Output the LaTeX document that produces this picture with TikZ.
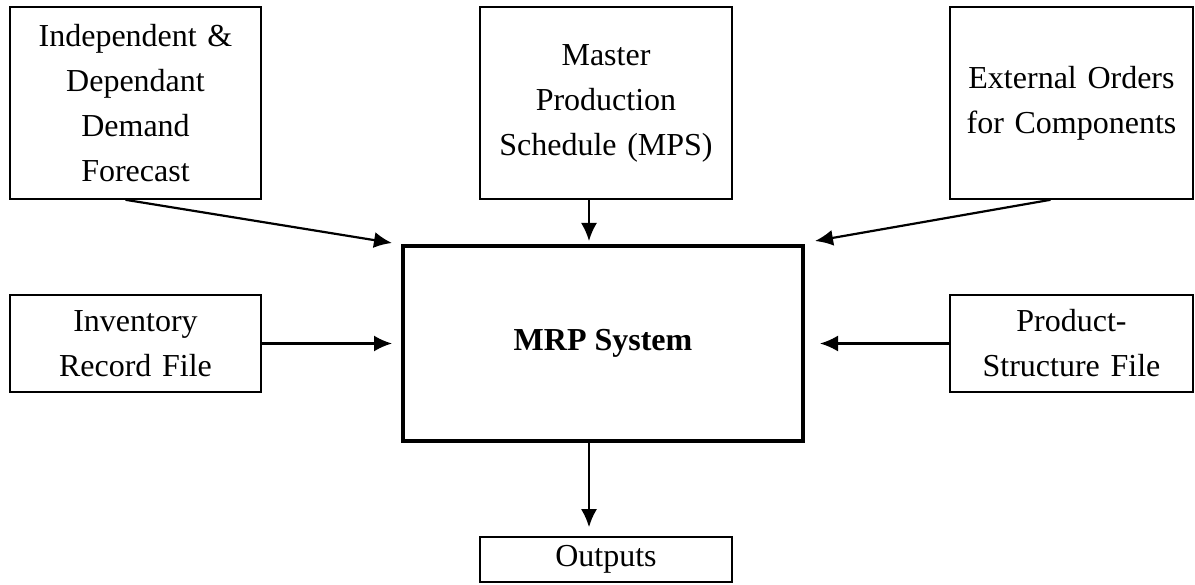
\documentclass[tikz,border=0pt]{standalone}
\usepackage{fontspec}
\setmainfont{Liberation Serif}
\usetikzlibrary{arrows.meta}
\usetikzlibrary{positioning}
\tikzset {
  % plain input / output boxes
  box/.style = {draw, line width=1.6pt, inner sep=0pt, align=center,
    font=\fontsize{32}{45}\selectfont},
  % the central system box
  mainbox/.style = {box, line width=4pt, font=\fontsize{32}{44}\selectfont\bfseries},
  % connectors
  arr/.style = {line width=2.2pt, -{Latex[length=18pt,width=16pt]}},
}

\begin{document}
\begin{tikzpicture}[x=1pt,y=-1pt]
        \useasboundingbox (0,0) rectangle (1195,585);

        \node[mainbox, minimum width=400pt, minimum height=195pt] (mrp) at (603,343.5) {MRP System};

        \node[box, minimum width=251pt, minimum height=192pt, text width=245pt] (dem) at (135.5,103)
          {Independent \&\\Dependant\\Demand\\Forecast};
        \node[box, minimum width=252pt, minimum height=192pt, text width=245pt] (mps) at (606,103)
          {Master\\Production\\Schedule (MPS)};
        \node[box, minimum width=243pt, minimum height=192pt, text width=240pt] (ext) at (1071.5,103)
          {External Orders\\for Components};
        \node[box, minimum width=251pt, minimum height=97pt, text width=245pt] (inv) at (135.5,343.5)
          {Inventory\\Record File};
        \node[box, minimum width=243pt, minimum height=97pt, text width=240pt] (prod) at (1071.5,343.5)
          {Product-\\Structure File};
        \node[box, minimum width=252pt, minimum height=45pt, text width=245pt] (out) at (606,559.5)
          {Outputs};

        \draw [arr] ([shift={(-10,0)}]dem.south) -- ([shift={(-9,-1)}]mrp.north west);
        \draw [arr] ([shift={(-17,0)}]mps.south) -- ([shift={(-14,-3)}]mrp.north);
        \draw [arr] ([shift={(-21,0)}]ext.south) -- ([shift={(10,-3)}]mrp.north east);
        \draw [arr] (inv.east) -- ([shift={(-9,0)}]mrp.west);
        \draw [arr] (prod.west) -- ([shift={(15,0)}]mrp.east);
        \draw [arr] ([shift={(-14,0)}]mrp.south) -- ([shift={(-17,-9)}]out.north);
      \end{tikzpicture}
\end{document}
